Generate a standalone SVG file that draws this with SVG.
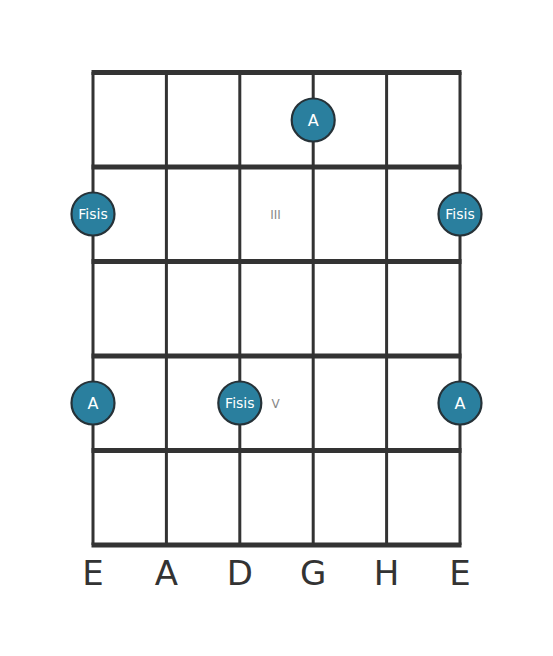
<svg xmlns="http://www.w3.org/2000/svg" width="553" height="656" viewBox="0 0 553 656">
<style>
.fret{stroke:#333;stroke-width:5}
.str{stroke:#333;stroke-width:3}
.dot circle{fill:#2a7f9e;stroke:#263238;stroke-width:2.2}
.dot text{fill:#fff;font-family:"DejaVu Sans",sans-serif;text-anchor:middle}
.lbl{fill:#333;font-family:"DejaVu Sans",sans-serif;font-size:34px;text-anchor:middle}
.pos{fill:#888;font-family:"DejaVu Sans",sans-serif;font-size:12px;text-anchor:middle}
</style>
<rect width="553" height="656" fill="#fff"/>
<g id="connectors">
<line class="str" x1="93" y1="72" x2="93" y2="545"/>
<line class="str" x1="166.4" y1="72" x2="166.4" y2="545"/>
<line class="str" x1="239.8" y1="72" x2="239.8" y2="545"/>
<line class="str" x1="313.2" y1="72" x2="313.2" y2="545"/>
<line class="str" x1="386.6" y1="72" x2="386.6" y2="545"/>
<line class="str" x1="460" y1="72" x2="460" y2="545"/>
<line class="fret" x1="91.5" y1="72.5" x2="461.5" y2="72.5"/>
<line class="fret" x1="91.5" y1="167" x2="461.5" y2="167"/>
<line class="fret" x1="91.5" y1="261.5" x2="461.5" y2="261.5"/>
<line class="fret" x1="91.5" y1="356" x2="461.5" y2="356"/>
<line class="fret" x1="91.5" y1="450.5" x2="461.5" y2="450.5"/>
<line class="fret" x1="91.5" y1="545" x2="461.5" y2="545"/>
</g>
<g id="fretpos">
<text class="pos" x="275.5" y="218.5">III</text>
<text class="pos" x="275.5" y="407.5">V</text>
</g>
<g id="n1" class="dot"><circle cx="313.2" cy="120" r="21.5"/><text x="313.2" y="125.8" font-size="16">A</text></g>
<g id="n2" class="dot"><circle cx="93" cy="214" r="21.5"/><text x="93" y="219" font-size="14">Fisis</text></g>
<g id="n3" class="dot"><circle cx="460" cy="214" r="21.5"/><text x="460" y="219" font-size="14">Fisis</text></g>
<g id="n4" class="dot"><circle cx="93" cy="403" r="21.5"/><text x="93" y="408.8" font-size="16">A</text></g>
<g id="n5" class="dot"><circle cx="239.8" cy="403" r="21.5"/><text x="239.8" y="408" font-size="14">Fisis</text></g>
<g id="n6" class="dot"><circle cx="460" cy="403" r="21.5"/><text x="460" y="408.8" font-size="16">A</text></g>
<g id="labels">
<text class="lbl" x="93" y="585">E</text>
<text class="lbl" x="166.4" y="585">A</text>
<text class="lbl" x="239.8" y="585">D</text>
<text class="lbl" x="313.2" y="585">G</text>
<text class="lbl" x="386.6" y="585">H</text>
<text class="lbl" x="460" y="585">E</text>
</g>
</svg>
